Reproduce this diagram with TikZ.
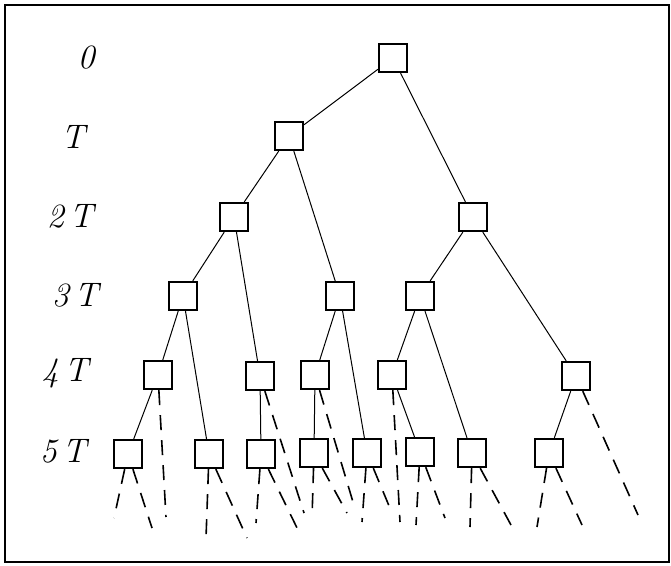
\documentclass[tikz,border=0pt]{standalone}
\begin{document}
\begin{tikzpicture}[x=1pt,y=-1pt,
  box/.style={draw,line width=2.3pt,minimum width=28pt,minimum height=28pt,inner sep=0pt},
  edge/.style={line width=1pt},
  dsh/.style={line width=1.6pt,dash pattern=on 15pt off 10pt},
  lvl/.style={font=\fontsize{34}{34}\selectfont\itshape,inner sep=0pt}]
\useasboundingbox (0,0) rectangle (671,565);
\draw[line width=2pt] (5,5) rectangle (669,562);
% level labels
\node[lvl] (l0) at (86,58) {0};
\node[lvl] (l1) at (73,137) {T};
\node[lvl] (l2) at (70,216) {2\,T};
\node[lvl] (l3) at (75,295) {3\,T};
\node[lvl] (l4) at (65,373) {4\,T};
\node[lvl] (l5) at (63,451) {5\,T};
% nodes
\node[box] (r) at (393,58) {};
\node[box] (a1) at (289,136) {};
\node[box] (b1) at (234,217) {};
\node[box] (b2) at (473,217) {};
\node[box] (c1) at (183,296) {};
\node[box] (c2) at (340,296) {};
\node[box] (c3) at (420,296) {};
\node[box] (d1) at (158,375) {};
\node[box] (d2) at (260,376) {};
\node[box] (d3) at (315,375) {};
\node[box] (d4) at (392,375) {};
\node[box] (d5) at (576,376) {};
\node[box] (e1) at (128,454) {};
\node[box] (e2) at (209,454) {};
\node[box] (e3) at (261,454) {};
\node[box] (e4) at (314,453) {};
\node[box] (e5) at (367,453) {};
\node[box] (e6) at (420,452) {};
\node[box] (e7) at (472,453) {};
\node[box] (e8) at (549,453) {};
% solid edges
\foreach \p/\c in {r/a1,r/b2,a1/b1,a1/c2,b1/c1,b1/d2,b2/c3,b2/d5,c1/d1,c1/e2,c2/d3,c2/e5,c3/d4,c3/e7,d1/e1,d2/e3,d3/e4,d4/e6,d5/e8}
  \draw[edge] (\p) -- (\c);
% free ends of dashed continuations
\coordinate (d1x) at (166,517);
\coordinate (d2x) at (304,513);
\coordinate (d3x) at (353,502);
\coordinate (d4x) at (400,522);
\coordinate (d5x) at (638,515);
\coordinate (e1l) at (114,518);
\coordinate (e1r) at (152,528);
\coordinate (e2l) at (206,538);
\coordinate (e2r) at (247,538);
\coordinate (e3l) at (256,523);
\coordinate (e3r) at (299,532);
\coordinate (e4l) at (312,518);
\coordinate (e4r) at (347,513);
\coordinate (e5l) at (362,522);
\coordinate (e5r) at (392,513);
\coordinate (e6l) at (416,525);
\coordinate (e6r) at (445,518);
\coordinate (e7l) at (470,527);
\coordinate (e7r) at (511,525);
\coordinate (e8l) at (537,527);
\coordinate (e8r) at (582,525);
\foreach \n in {d1,d2,d3,d4,d5}
  \draw[dsh] (\n) -- (\n x);
\foreach \n in {e1,e2,e3,e4,e5,e6,e7,e8}{
  \draw[dsh] (\n) -- (\n l);
  \draw[dsh] (\n) -- (\n r);
}
\end{tikzpicture}
\end{document}
